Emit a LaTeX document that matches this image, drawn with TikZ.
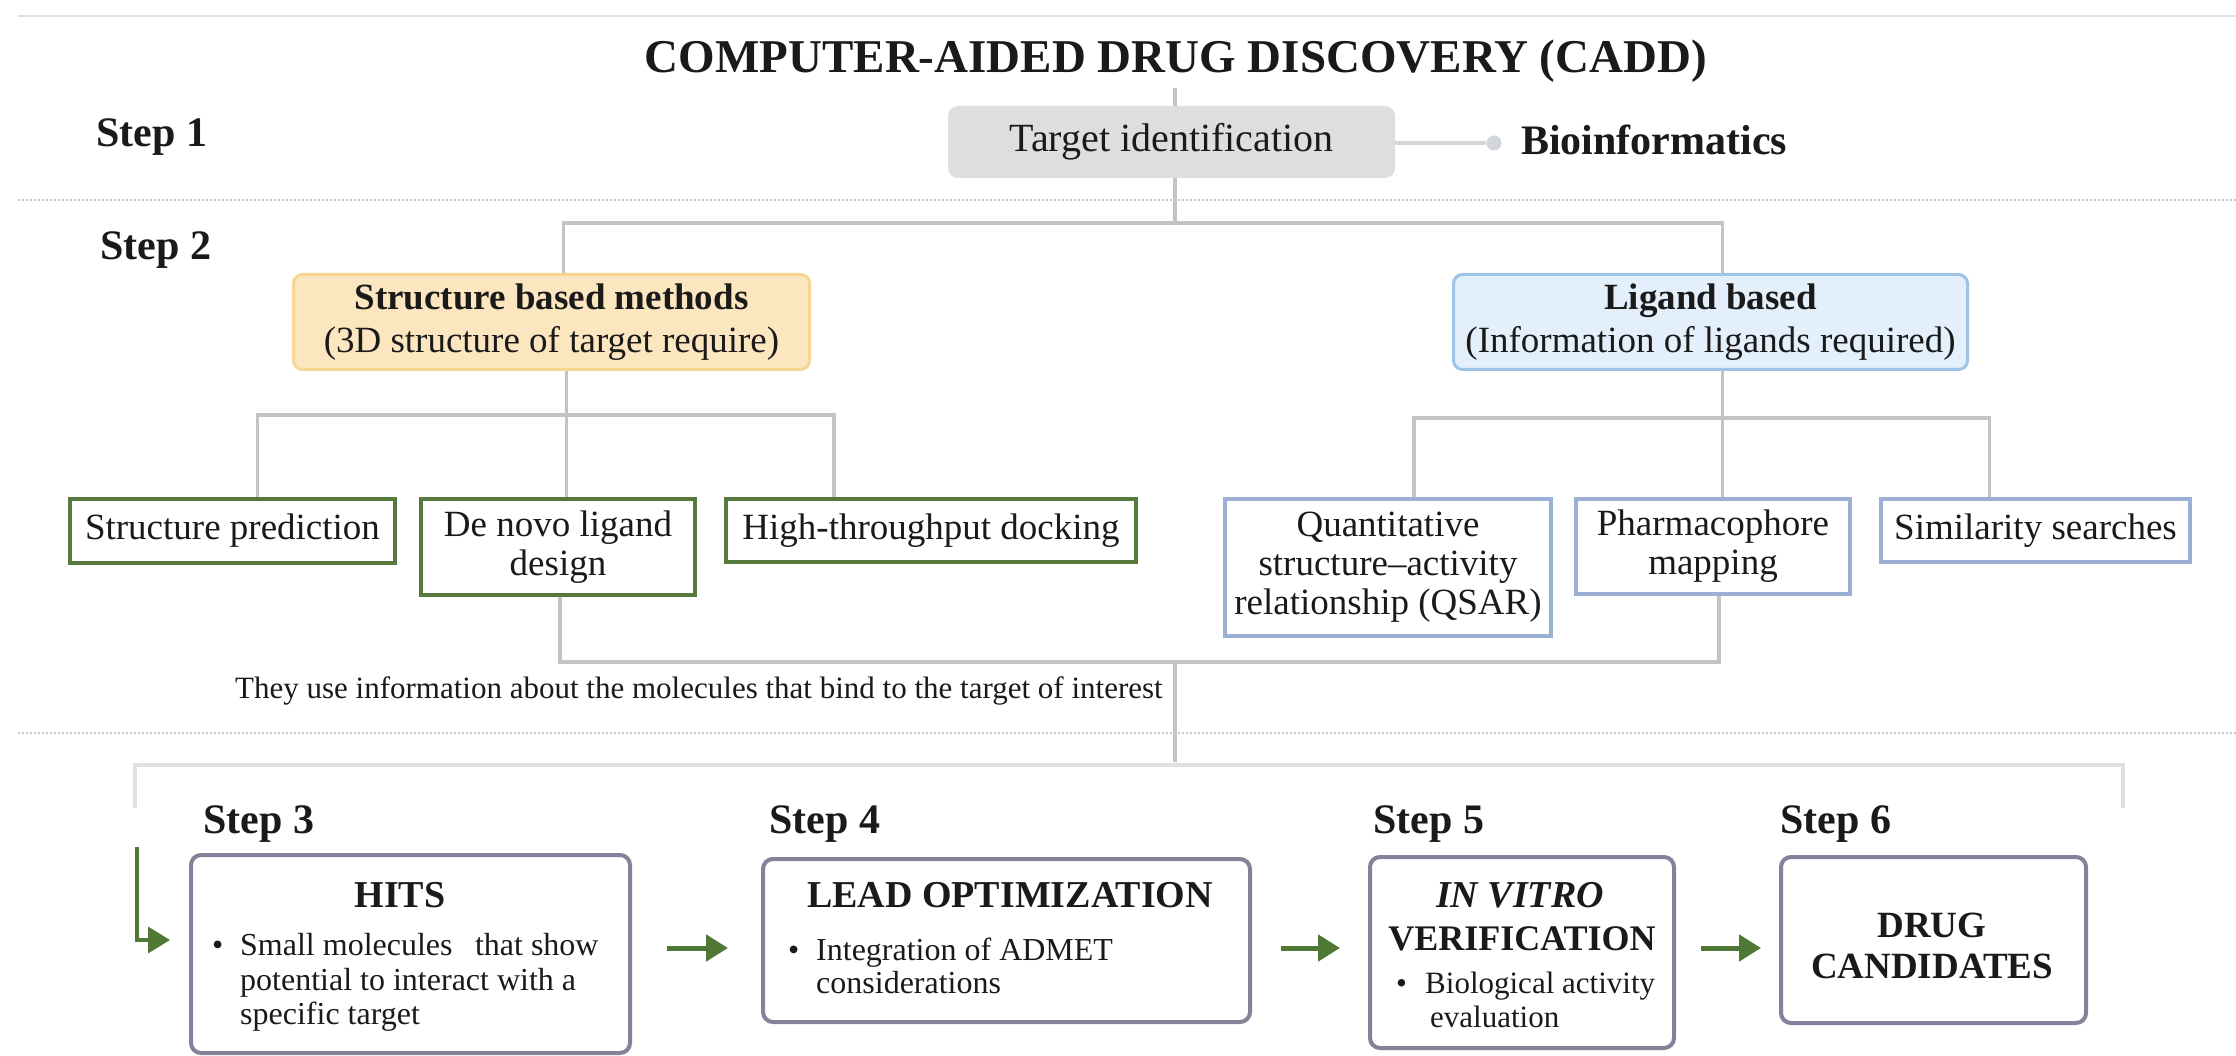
\documentclass[tikz,border=0pt]{standalone}
\usepackage{fontspec}
\setmainfont{Liberation Serif}
\usetikzlibrary{arrows.meta}
\definecolor{txt}{HTML}{1A1A1A}
\definecolor{connc}{HTML}{C4C4C4}
\definecolor{brkc}{HTML}{E0E0E0}
\definecolor{sepc}{HTML}{C8C8C8}
\definecolor{tgtfill}{HTML}{DEDEDE}
\definecolor{orfill}{HTML}{FCE6C0}
\definecolor{ordraw}{HTML}{F6D690}
\definecolor{blfill}{HTML}{E3EFFB}
\definecolor{bldraw}{HTML}{9DC3E6}
\definecolor{grn}{HTML}{55793A}
\definecolor{blu}{HTML}{9CAFD4}
\definecolor{purp}{HTML}{84829A}
\definecolor{arrgrn}{HTML}{4F7834}
\definecolor{biolink}{HTML}{D2D6DA}
\newcommand\fsz[2]{\fontsize{#1}{#2}\selectfont}
\begin{document}
\begin{tikzpicture}[x=1pt,y=-1pt,
  every node/.style={text=txt},
  steplabel/.style={anchor=base west, inner sep=0, font=\fsz{42}{46}\bfseries},
  gbox/.style={draw=grn, line width=4pt, fill=white, inner sep=0, align=center, font=\fsz{37}{39}},
  bbox/.style={draw=blu, line width=4pt, fill=white, inner sep=0, align=center, font=\fsz{37}{39}},
  stagebox/.style={draw=purp, line width=4pt, rounded corners=10pt, fill=white, inner sep=0},
  conn/.style={draw=connc, line width=3.5pt},
  garrow/.style={draw=arrgrn, line width=5pt, -{Triangle[length=22pt,width=26pt]}},
  sepline/.style={draw=sepc, line width=2pt, dash pattern=on 2pt off 2pt},
  head/.style={anchor=base, inner sep=0, font=\fsz{38}{40}\bfseries},
  btxt/.style={anchor=base west, inner sep=0, font=\fsz{32}{34}},
]
\useasboundingbox (0,0) rectangle (2236,1056);
\fill[white] (0,0) rectangle (2236,1056);

% top rule and separators
\coordinate (tl) at (18,16); \coordinate (tr) at (2236,16);
\draw[brkc, line width=2pt] (tl) -- (tr);
\coordinate (s1l) at (18,200); \coordinate (s1r) at (2236,200);
\draw[sepline] (s1l) -- (s1r);
\coordinate (s2l) at (18,733); \coordinate (s2r) at (2236,733);
\draw[sepline] (s2l) -- (s2r);

% title
\node[anchor=base, inner sep=0, font=\fsz{47}{50}\bfseries] (title) at (1176,73) {COMPUTER-AIDED DRUG DISCOVERY (CADD)};

% step labels
\node[steplabel] (st1) at (96,147) {Step 1};
\node[steplabel] (st2) at (100,260) {Step 2};
\node[steplabel] (st3) at (203,833) {Step 3};
\node[steplabel] (st4) at (769,833) {Step 4};
\node[steplabel] (st5) at (1373,833) {Step 5};
\node[steplabel] (st6) at (1780,833) {Step 6};

% step 1
\node[fill=tgtfill, rounded corners=10pt, minimum width=447pt, minimum height=72pt, inner sep=0, font=\fsz{40}{42}] (tgt) at (1171.5,142) {Target identification};
\node[circle, fill=biolink, minimum size=15pt, inner sep=0] (bdot) at (1494,143) {};
\draw[biolink, line width=4pt] (tgt.east |- bdot) -- (bdot);
\node[anchor=base west, inner sep=0, font=\fsz{42}{46}\bfseries] (bio) at (1521,155) {Bioinformatics};
\coordinate (ttop) at (1175,88);
\draw[conn] (ttop) -- (ttop |- tgt.north);

% step 2 boxes
\node[draw=ordraw, fill=orfill, line width=3pt, rounded corners=9pt, minimum width=516pt, minimum height=95pt, inner sep=0, align=center, font=\fsz{37}{43}] (sbm) at (551.5,322) {\bfseries Structure based methods\\(3D structure of target require)};
\node[draw=bldraw, fill=blfill, line width=3pt, rounded corners=9pt, minimum width=514pt, minimum height=95pt, inner sep=0, align=center, font=\fsz{37}{43}] (lig) at (1710.5,322) {\bfseries Ligand based\\(Information of ligands required)};
\coordinate (b1) at (1175,223);
\draw[conn] (ttop |- tgt.south) -- (b1);
\draw[conn] ([xshift=12pt]sbm.north) |- (b1) -| ([xshift=12pt]lig.north);

\node[gbox, minimum width=325pt, minimum height=64pt] (sp) at (232.5,531) {Structure prediction};
\node[gbox, minimum width=274pt, minimum height=96pt] (dn) at (558,547) {De novo ligand\\design};
\node[gbox, minimum width=410pt, minimum height=63pt] (ht) at (931,530.5) {High-throughput docking};
\node[bbox, minimum width=326pt, minimum height=137pt] (qs) at (1388,567.5) {Quantitative\\structure--activity\\relationship (QSAR)};
\node[bbox, minimum width=274pt, minimum height=95pt] (pm) at (1713,546.5) {Pharmacophore\\mapping};
\node[bbox, minimum width=309pt, minimum height=63pt] (ss) at (2035.5,530.5) {Similarity searches};

\coordinate (b2l) at (567,415);
\draw[conn] ([xshift=15pt]sbm.south) -- ([xshift=15pt]sbm.south |- dn.north);
\draw[conn] ([xshift=25pt]sp.north) |- (b2l) -| ([xshift=-97pt]ht.north);
\coordinate (b2r) at (1723,418);
\draw[conn] ([xshift=12pt]lig.south) -- ([xshift=12pt]lig.south |- pm.north);
\draw[conn] ([xshift=26pt]qs.north) |- (b2r) -| ([xshift=-46pt]ss.north);

\coordinate (col) at (1175,662);
\draw[conn] ([xshift=2pt]dn.south) |- (col) -| ([xshift=6pt]pm.south);
\coordinate (col2) at (1175,762);
\draw[conn] (col) -- (col2);
\node[anchor=base west, inner sep=0, font=\fsz{31}{33}] (use) at (235,698) {They use information about the molecules that bind to the target of interest};

% bracket
\coordinate (brl) at (135,808); \coordinate (brtl) at (135,765);
\coordinate (brtr) at (2123,765); \coordinate (brr) at (2123,808);
\draw[brkc, line width=4pt] (brl) -- (brtl) -- (brtr) -- (brr);

% stage boxes
\node[stagebox, minimum width=439pt, minimum height=198pt] (hits) at (410.5,954) {};
\node[stagebox, minimum width=487pt, minimum height=163pt] (lead) at (1006.5,940.5) {};
\node[stagebox, minimum width=304pt, minimum height=191pt] (vitro) at (1522,952.5) {};
\node[stagebox, minimum width=305pt, minimum height=166pt] (drug) at (1933.5,940) {};

% green entry arrow
\coordinate (gs) at (137,847);
\draw[draw=arrgrn, line width=3.5pt, -{Triangle[length=22pt,width=26pt]}, shorten >=19pt] (gs) |- ([yshift=14pt]hits.west);

% stage arrows
\path (hits.east) ++(35,-6) coordinate (a1);
\draw[garrow, shorten >=33pt] (a1) -- (a1 -| lead.west);
\path (lead.east) ++(29,7.5) coordinate (a2);
\draw[garrow, shorten >=28pt] (a2) -- (a2 -| vitro.west);
\path (vitro.east) ++(25,-4.5) coordinate (a3);
\draw[garrow, shorten >=18pt] (a3) -- (a3 -| drug.west);

% HITS text
\node[head] (hitsh) at (400,907) {HITS};
\node[btxt] (hb) at (212,955) {\textbullet};
\node[btxt] (h1) at (240,955) {Small molecules\hspace{0.7em}that show};
\node[btxt] (h2) at (240,990) {potential to interact with a};
\node[btxt] (h3) at (240,1024) {specific target};

% LEAD text
\node[head] (leadh) at (1010,907) {LEAD OPTIMIZATION};
\node[btxt] (lb) at (788,960) {\textbullet};
\node[btxt] (l1) at (816,960) {Integration of ADMET};
\node[btxt] (l2) at (816,993) {considerations};

% IN VITRO text
\node[head, font=\fsz{38}{40}\bfseries\itshape] (vh1) at (1520,907) {IN VITRO};
\node[head, font=\fsz{36}{40}\bfseries] (vh2) at (1522,950) {VERIFICATION};
\node[btxt, font=\fsz{31}{33}] (vb) at (1396,993) {\textbullet};
\node[btxt, font=\fsz{31}{33}] (v1) at (1425,993) {Biological activity};
\node[btxt, font=\fsz{31}{33}] (v2) at (1430,1027) {evaluation};

% DRUG text
\node[head, font=\fsz{37}{40}\bfseries] (dh1) at (1932,937) {DRUG};
\node[head, font=\fsz{37}{40}\bfseries] (dh2) at (1932,978) {CANDIDATES};
\end{tikzpicture}
\end{document}
